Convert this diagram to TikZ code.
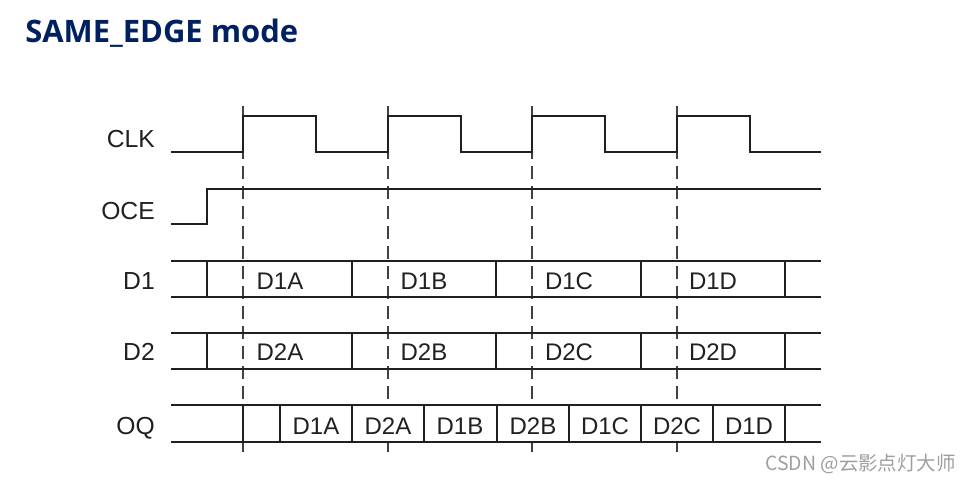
\documentclass[tikz,border=0pt]{standalone}
\usepackage{fontspec}
\setmainfont{Liberation Sans}
\newfontfamily\titlefont{Open Sans}
\newfontfamily\cjk{Noto Sans CJK SC}
\usetikzlibrary{positioning}
\definecolor{titleblue}{RGB}{0,32,96}
\definecolor{wave}{RGB}{32,32,32}
\tikzstyle{every picture} = [x=0.75pt, y=-0.75pt]
\tikzstyle{sig} = [line width=1.8pt, draw=wave, line join=miter]
\tikzstyle{edgeline} = [draw=wave!85, line width=0.8pt, dash pattern=on 10pt off 5pt]
\tikzstyle{signame} = [anchor=base east, inner sep=0pt, text=wave, font=\fontsize{18.5}{20}\selectfont]
\tikzstyle{datum} = [anchor=base, inner sep=0pt, text=wave, font=\fontsize{18}{20}\selectfont]

\begin{document}
\begin{tikzpicture}
            \useasboundingbox (0,0) rectangle (971,484);
            \node (title) [anchor=base west, inner sep=0pt, text=titleblue, font=\titlefont\bfseries\fontsize{23.2}{26}\selectfont] at (25,43) {SAME\_EDGE mode};

            % clock edges, broken across the OQ row
            \foreach \t in {243,388,532,677}
                \draw[edgeline] (\t,106) -- (\t,405) (\t,442) -- (\t,452);

            \node (clk) [signame] at (155,148) {CLK};
            \node (oce) [signame] at (155,220) {OCE};
            \node (d1) [signame] at (155,290) {D1};
            \node (d2) [signame] at (155,361) {D2};
            \node (oq) [signame] at (155,435) {OQ};

            % CLK and OCE
            \draw[sig] (171,152) \foreach \t in {243,388,532,677} { -- (\t,152) -- (\t,116) -- (\t+73,116) -- (\t+73,152) } -- (821,152);
            \draw[sig] (171,224) -- (207,224) -- (207,189) -- (821,189);

            % D1 and D2
            \foreach \top/\bot in {261/297, 333/369} {
                \draw[sig] (171,\top) -- (821,\top) (171,\bot) -- (821,\bot);
                \foreach \x in {207,352,496,641,785}
                    \draw[sig] (\x,\top) -- (\x,\bot);
            }
            \foreach \x/\t [count=\i] in {280/D1A, 424/D1B, 569/D1C, 713/D1D}
                \node (d1 \i) [datum] at (\x,290) {\t};
            \foreach \x/\t [count=\i] in {280/D2A, 424/D2B, 569/D2C, 713/D2D}
                \node (d2 \i) [datum] at (\x,361) {\t};

            % OQ
            \draw[sig] (171,405) -- (821,405) (171,442) -- (821,442);
            \foreach \x in {243,280,352,424,497,569,641,713,785}
                \draw[sig] (\x,405) -- (\x,442);
            \foreach \x/\t [count=\i] in {316/D1A, 388/D2A, 460/D1B, 533/D2B, 605/D1C, 677/D2C, 749/D1D}
                \node (oq \i) [datum] at (\x,435) {\t};

            \node (mark) [anchor=base west, inner sep=0pt, text=black!38, font=\cjk\fontsize{14.6}{16}\selectfont] at (765,470) {CSDN @云影点灯大师};
        \end{tikzpicture}
\end{document}
